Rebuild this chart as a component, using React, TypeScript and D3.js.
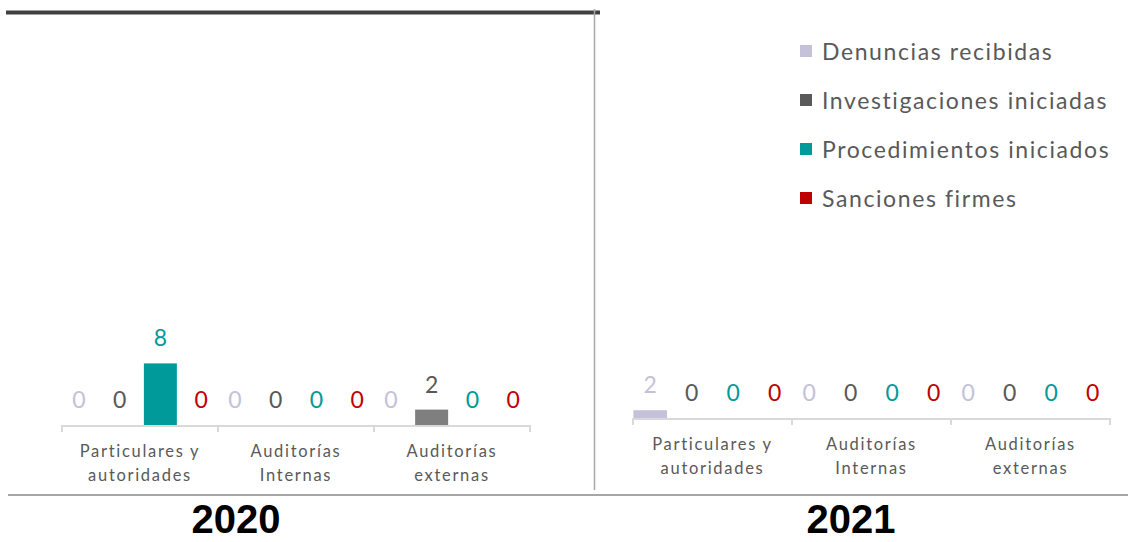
import React from "react";
import * as d3 from "d3";

const categories = ["Particulares y|autoridades", "Auditorías|Internas", "Auditorías|externas"];
const seriesNames = ["Denuncias recibidas", "Investigaciones iniciadas", "Procedimientos iniciados", "Sanciones firmes"];
const seriesBarColors = ["#c4c1d9", "#7f7f7f", "#009a9a", "#c00000"];
const seriesLabelColors = ["#c4c1d9", "#595959", "#009a9a", "#c00000"];
const legendColors = ["#c4c1d9", "#595959", "#009a9a", "#c00000"];

const values2020 = [
  [0, 0, 0],
  [0, 0, 2],
  [8, 0, 0],
  [0, 0, 0],
];
const values2021 = [
  [2, 0, 0],
  [0, 0, 0],
  [0, 0, 0],
  [0, 0, 0],
];
const years = ["2020", "2021"];

const FONT = "Lato, 'Noto Sans', sans-serif";

type PanelProps = {
  values: number[][];
  x0: number;
  x1: number;
  base: number;
  top: number;
  yMax: number;
  year: string;
  yearX: number;
};

function Panel({ values, x0, x1, base, top, yMax, year, yearX }: PanelProps) {
  const xCat = d3.scaleBand<string>().domain(categories).range([x0, x1]).paddingInner(0).paddingOuter(0);
  const xSer = d3
    .scaleBand<string>()
    .domain(seriesNames)
    .range([0, xCat.bandwidth()])
    .paddingInner(0.19)
    .paddingOuter(0.01);
  const y = d3.scaleLinear().domain([0, yMax]).range([base, top]);
  const ticks = [...categories.map((c) => xCat(c)!), x1];
  return (
    <g>
      {categories.map((c, ci) =>
        seriesNames.map((s, si) => {
          const v = values[si][ci];
          const bx = xCat(c)! + xSer(s)!;
          const bw = xSer.bandwidth();
          return (
            <g key={c + s}>
              {v > 0 && (
                <rect x={bx} y={y(v)} width={bw} height={base - y(v)} fill={seriesBarColors[si]} />
              )}
              <text
                x={bx + bw / 2}
                y={y(v) - 17}
                textAnchor="middle"
                fontFamily={FONT}
                fontSize={23}
                fill={seriesLabelColors[si]}
              >
                {v}
              </text>
            </g>
          );
        })
      )}
      <line x1={x0} x2={x1} y1={base + 1} y2={base + 1} stroke="#d9d9d9" strokeWidth={2} />
      {ticks.map((t, i) => (
        <line key={i} x1={t} x2={t} y1={base} y2={base + 7} stroke="#d9d9d9" strokeWidth={2} />
      ))}
      {categories.map((c) => {
        const lines = c.split("|");
        return (
          <text
            key={c}
            x={xCat(c)! + xCat.bandwidth() / 2}
            textAnchor="middle"
            fontFamily={FONT}
            fontSize={16.5}
            letterSpacing={1.7}
            fill="#595959"
          >
            {lines.map((l, i) => (
              <tspan key={i} x={xCat(c)! + xCat.bandwidth() / 2} y={base + 32 + i * 24}>
                {l}
              </tspan>
            ))}
          </text>
        );
      })}
      <text
        x={yearX}
        y={533}
        textAnchor="middle"
        fontFamily="'Liberation Sans', Arial, sans-serif"
        fontWeight="bold"
        fontSize={40}
        fill="#000"
      >
        {year}
      </text>
    </g>
  );
}

export default function App() {
  return (
    <svg
      width={1128}
      height={542}
      style={{ position: "absolute", left: 0, top: 0, background: "#fff" }}
    >
      <line x1={6} x2={600} y1={12.5} y2={12.5} stroke="#404040" strokeWidth={4} />
      <line x1={594.5} x2={594.5} y1={9} y2={490} stroke="#a6a6a6" strokeWidth={1.5} />
      <line x1={8} x2={1128} y1={495} y2={495} stroke="#a6a6a6" strokeWidth={2} />
      <Panel values={values2020} x0={62} x1={530} base={425} top={40} yMax={50} year={years[0]} yearX={236} />
      <Panel values={values2021} x0={633} x1={1110} base={418} top={30} yMax={100} year={years[1]} yearX={851} />
      {seriesNames.map((s, i) => (
        <g key={s}>
          <rect x={800} y={45 + i * 49} width={12} height={12} fill={legendColors[i]} />
          <text
            x={822}
            y={60 + i * 49}
            fontFamily={FONT}
            fontSize={23}
            letterSpacing={1.6}
            fill="#595959"
          >
            {s}
          </text>
        </g>
      ))}
    </svg>
  );
}
